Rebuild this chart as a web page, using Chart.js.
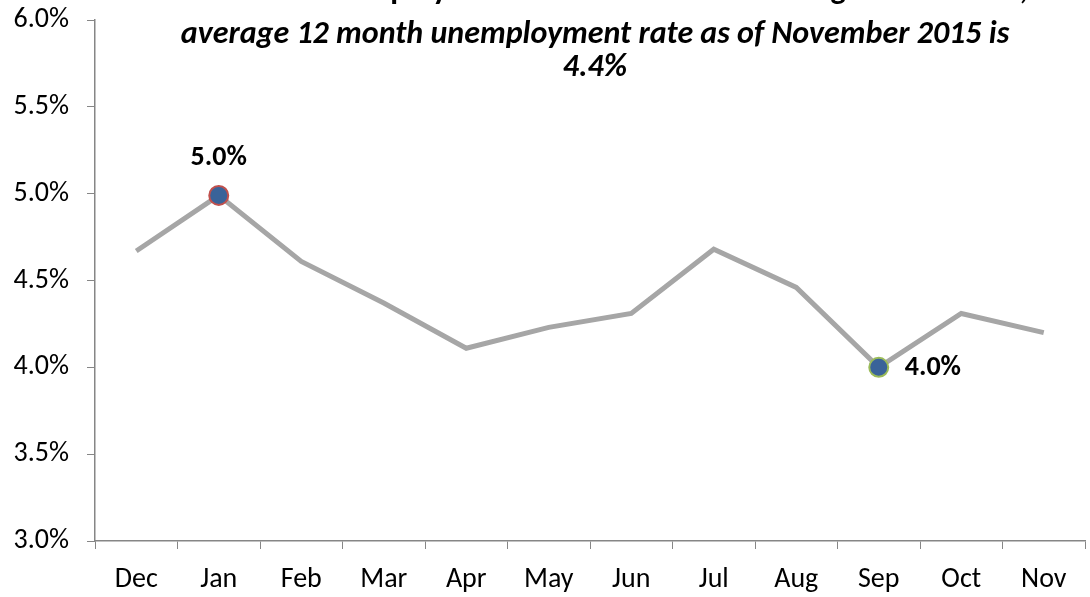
<!DOCTYPE html>
<html>
<head>
<meta charset="utf-8">
<script src="https://cdn.jsdelivr.net/npm/chart.js@4"></script>
<style>
  body { margin: 0; background: #fff; }
  #wrap { width: 1090px; height: 597px; }
</style>
</head>
<body>
<div id="wrap"><canvas id="rateChart"></canvas></div>
<script>
const months = ["Dec", "Jan", "Feb", "Mar", "Apr", "May", "Jun", "Jul", "Aug", "Sep", "Oct", "Nov"];
const rates = [4.67, 4.99, 4.61, 4.37, 4.11, 4.23, 4.31, 4.68, 4.46, 4.00, 4.31, 4.20];
const yTicks = [3.0, 3.5, 4.0, 4.5, 5.0, 5.5, 6.0];
const titleLines = [
    "Local Area Unemployment Rate Has Been Declining Since Winter,",
    "average 12 month unemployment rate as of November 2015 is",
    "4.4%"
];
const highIndex = 1;
const lowIndex = 9;

const font = "Carlito, Calibri, Lato, sans-serif";

// marker only on the high and low months
const pointRadius = rates.map((v, i) => (i === highIndex || i === lowIndex) ? 9.5 : 0);
const pointBorder = rates.map((v, i) => i === highIndex ? "#C0504D" : (i === lowIndex ? "#9BBB59" : "#A6A6A6"));

const titlePlugin = {
    id: "titleLines",
    afterDraw(c) {
        const ctx = c.ctx;
        ctx.save();
        ctx.fillStyle = "#000";
        ctx.textAlign = "center";
        ctx.textBaseline = "alphabetic";
        ctx.font = "bold 32px " + font;
        ctx.fillText(titleLines[0], 597, -1);
        ctx.font = "italic bold 32px " + font;
        ctx.fillText(titleLines[1], 595, 43);
        ctx.fillText(titleLines[2], 595, 76);
        ctx.restore();
    }
};

const labelPlugin = {
    id: "pointLabels",
    afterDatasetsDraw(c) {
        const ctx = c.ctx;
        const pts = c.getDatasetMeta(0).data;
        ctx.save();
        ctx.fillStyle = "#000";
        ctx.font = "bold 28px " + font;
        ctx.textBaseline = "middle";
        const hi = pts[highIndex];
        ctx.textAlign = "center";
        ctx.fillText(rates[highIndex].toFixed(1) + "%", hi.x, hi.y - 37);
        const lo = pts[lowIndex];
        ctx.textAlign = "left";
        ctx.fillText(rates[lowIndex].toFixed(1) + "%", lo.x + 26, lo.y + 1);
        ctx.restore();
    }
};

new Chart(document.getElementById("rateChart"), {
    type: "line",
    data: {
        labels: months,
        datasets: [{
            data: rates,
            borderColor: "#A6A6A6",
            borderWidth: 5,
            tension: 0,
            pointRadius: pointRadius,
            pointHoverRadius: pointRadius,
            pointBackgroundColor: "#3A6399",
            pointBorderColor: pointBorder,
            pointBorderWidth: 2
        }]
    },
    options: {
        responsive: true,
        maintainAspectRatio: false,
        animation: false,
        layout: { padding: { top: 20, right: 5, left: 0, bottom: 0 } },
        plugins: {
            legend: { display: false },
            tooltip: { enabled: false }
        },
        scales: {
            x: {
                offset: true,
                grid: {
                    offset: true,
                    drawOnChartArea: false,
                    color: "#868686",
                    tickLength: 8
                },
                border: { color: "#868686", width: 1.5 },
                ticks: { color: "#000", font: { family: font, size: 28 }, padding: 14 },
                afterFit(s) { s.height = 56; }
            },
            y: {
                min: 3.0,
                max: 6.0,
                afterBuildTicks(s) { s.ticks = yTicks.map(v => ({ value: v })); },
                grid: {
                    drawOnChartArea: false,
                    color: "#868686",
                    tickLength: 8
                },
                border: { color: "#868686", width: 1.5 },
                ticks: {
                    color: "#000",
                    font: { family: font, size: 28 },
                    padding: 18,
                    callback: v => v.toFixed(1) + "%"
                },
                afterFit(s) {
                    s.width = 95;
                    s.paddingTop = 0;
                    s.paddingBottom = 0;
                }
            }
        }
    },
    plugins: [titlePlugin, labelPlugin]
});
</script>
</body>
</html>
